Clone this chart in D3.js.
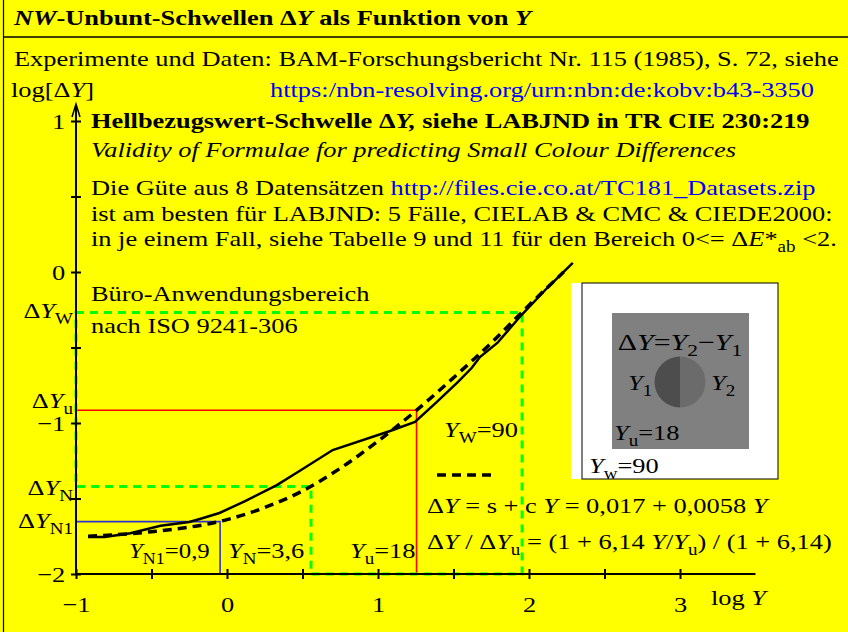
<!DOCTYPE html>
<html>
<head>
<meta charset="utf-8">
<script src="https://cdn.jsdelivr.net/npm/d3@7"></script>
<style>
body { margin: 0; background: #ffff00; }
svg { display: block; font-family: "Liberation Serif", "Times New Roman", serif; }
</style>
</head>
<body>
<script>
// tick values of the two log axes
var xTicks = [-1, 0, 1, 2, 3];
var xMinor = [-1, -0.5, 0, 0.5, 1, 1.5, 2, 2.5, 3];
var yTicks = [-2, -1, 0, 1];
var yMinor = [-2, -1.5, -1, -0.5, 0, 0.5, 1];

var solidLogY  = [-0.92, -0.81, -0.64, -0.44, -0.25, -0.18, -0.05, 0.12, 0.33, 0.48, 0.70, 1.08, 1.245, 1.39, 1.53, 1.62, 1.675, 1.79, 1.95, 2.12, 2.29];
var solidLogDY = [-1.755, -1.755, -1.73, -1.68, -1.656, -1.636, -1.596, -1.517, -1.411, -1.318, -1.179, -1.053, -0.993, -0.86, -0.728, -0.636, -0.563, -0.47, -0.285, -0.106, 0.06];

// fitted curve (dashed)
var dashLogY  = [-0.92, -0.5, 0, 0.25, 0.5, 0.75, 1.0, 1.25, 1.5, 1.75, 2.0, 2.23];
var dashLogDY = [-1.75, -1.72, -1.64, -1.56, -1.45, -1.30, -1.12, -0.92, -0.70, -0.47, -0.22, 0.0];

// reference points N1, N, u, W
var refNames = ["N1", "N", "u", "W"];
var refY     = [0.9, 3.6, 18, 90];
var refLogDY = [-1.653, -1.421, -0.916, -0.268];

var W = 848, H = 632;
var SX = 1.2; // glyphs in the picture are stretched horizontally
var svg = d3.select("body").append("svg").attr("width", W).attr("height", H);

svg.append("rect").attr("width", W).attr("height", H).attr("fill", "#ffff00");

var x = d3.scaleLinear().domain([-1, 3]).range([76, 680]);
var y = d3.scaleLinear().domain([-2, 1]).range([574, 121]);

// text with ~italic~ and _{sub} markup
function rich(g, px, py, str, size, opts) {
  opts = opts || {};
  var t = g.append("text").attr("transform", "translate(" + px + "," + py + ") scale(" + (opts.sx || SX) + ",1)")
    .attr("font-size", size).attr("text-anchor", opts.anchor || "start");
  if (opts.bold) t.attr("font-weight", "bold");
  if (opts.fill) t.attr("fill", opts.fill);
  if (opts.italic) t.attr("font-style", "italic");
  var parts = str.split(/(~[^~]+~|_\{[^}]+\})/);
  var shift = 0;
  parts.forEach(function(p) {
    if (p === "") return;
    var s = t.append("tspan");
    if (p[0] === "~") {
      s.text(p.slice(1, -1)).attr("font-style", "italic");
      if (shift) { s.attr("dy", -shift); shift = 0; }
    } else if (p[0] === "_") {
      s.text(p.slice(2, -1)).attr("font-size", size * 0.72).attr("dy", size * 0.25 - shift);
      shift = size * 0.25;
    } else {
      s.text(p);
      if (shift) { s.attr("dy", -shift); shift = 0; }
    }
  });
  return t;
}

// header
svg.append("line").attr("x1", 3.5).attr("x2", 3.5).attr("y1", 0).attr("y2", H)
  .attr("stroke", "#000").attr("stroke-width", 1.2);
svg.append("line").attr("x1", 3).attr("x2", W).attr("y1", 37).attr("y2", 37)
  .attr("stroke", "#000").attr("stroke-width", 1.5);
rich(svg, 14, 25, "~NW~-Unbunt-Schwellen Δ~Y~ als Funktion von ~Y~", 22, {bold: true});
rich(svg, 14, 66, "Experimente und Daten: BAM-Forschungsbericht Nr. 115 (1985), S. 72, siehe", 22);
rich(svg, 11, 97, "log[Δ~Y~]", 22);
rich(svg, 270, 97, "https:/nbn-resolving.org/urn:nbn:de:kobv:b43-3350", 22, {fill: "#0000ff"});

rich(svg, 91, 128, "Hellbezugswert-Schwelle Δ~Y,~ siehe LABJND in TR CIE 230:219", 22, {bold: true});
rich(svg, 91, 157, "Validity of Formulae for predicting Small Colour Differences", 22, {italic: true});
var t1 = rich(svg, 91, 195, "Die Güte aus 8 Datensätzen ", 22);
t1.append("tspan").attr("fill", "#0000ff").text("http://files.cie.co.at/TC181_Datasets.zip");
rich(svg, 91, 221, "ist am besten für LABJND: 5 Fälle, CIELAB & CMC & CIEDE2000:", 22);
rich(svg, 91, 246, "in je einem Fall, siehe Tabelle 9 und 11 für den Bereich 0<= Δ~E~*_{ab} <2.", 22);

rich(svg, 91, 301, "Büro-Anwendungsbereich", 22);
rich(svg, 91, 333, "nach ISO 9241-306", 22);

// reference lines
var px = refY.map(function(v) { return x(Math.log10(v)); });
var py = refLogDY.map(function(v) { return y(v); });
var x0 = x(-1), yb = y(-2);

svg.append("path")
  .attr("d", "M" + x0 + "," + py[0] + "H" + px[0] + "V" + yb)
  .attr("fill", "none").attr("stroke", "#3333cc").attr("stroke-width", 1.6);
svg.append("path")
  .attr("d", "M" + x0 + "," + py[2] + "H" + px[2] + "V" + yb)
  .attr("fill", "none").attr("stroke", "#ff0000").attr("stroke-width", 1.6);
svg.append("path")
  .attr("d", "M" + x0 + "," + py[3] + "H" + px[3] + "V" + yb + "H" + px[1] + "V" + py[1] + "H" + x0 + "Z")
  .attr("fill", "none").attr("stroke", "#00ff00").attr("stroke-width", 3)
  .attr("stroke-dasharray", "8,6");

// axes
var xa = svg.append("g").attr("transform", "translate(0," + yb + ")")
  .call(d3.axisBottom(x).tickValues(xMinor).tickSizeOuter(0)
    .tickFormat(function(d) { return xTicks.indexOf(d) >= 0 ? d3.format("d")(d) : ""; }));
xa.select(".domain").remove();
xa.selectAll(".tick line").attr("y1", -5).attr("y2", 5).attr("stroke-width", 2);
xa.selectAll(".tick text").attr("y", 38).attr("dy", 0).attr("font-size", 22)
  .attr("font-family", "Liberation Serif").attr("transform", "scale(" + SX + ",1)");
svg.append("line").attr("x1", x0).attr("x2", x(3.5)).attr("y1", yb).attr("y2", yb)
  .attr("stroke", "#000").attr("stroke-width", 2);

var ya = svg.append("g").attr("transform", "translate(" + x0 + ",0)")
  .call(d3.axisLeft(y).tickValues(yMinor).tickSizeOuter(0)
    .tickFormat(function(d) { return yTicks.indexOf(d) >= 0 ? d3.format("d")(d) : ""; }));
ya.select(".domain").remove();
ya.selectAll(".tick line").attr("x1", -5).attr("x2", 5).attr("stroke-width", 2);
ya.selectAll(".tick text").attr("x", -9).attr("dy", "0.32em").attr("font-size", 22)
  .attr("font-family", "Liberation Serif").attr("transform", "scale(" + SX + ",1)");
svg.append("line").attr("x1", x0).attr("x2", x0).attr("y1", yb).attr("y2", 106)
  .attr("stroke", "#000").attr("stroke-width", 2);
svg.append("path").attr("d", "M" + (x0 - 4) + ",117L" + x0 + ",104L" + (x0 + 4) + ",117")
  .attr("fill", "none").attr("stroke", "#000").attr("stroke-width", 1.5);

rich(svg, 711, 605, "log ~Y~", 22);

// curves
var line = d3.line().curve(d3.curveMonotoneX)
  .x(function(d) { return x(d[0]); }).y(function(d) { return y(d[1]); });
var solid = solidLogY.map(function(v, i) { return [v, solidLogDY[i]]; });
var dash = dashLogY.map(function(v, i) { return [v, dashLogDY[i]]; });

svg.append("path").attr("d", d3.line().x(function(d) { return x(d[0]); }).y(function(d) { return y(d[1]); })(solid))
  .attr("fill", "none").attr("stroke", "#000").attr("stroke-width", 2.5);
svg.append("path").attr("d", line(dash))
  .attr("fill", "none").attr("stroke", "#000").attr("stroke-width", 3.5)
  .attr("stroke-dasharray", "9,6");

// labels of the reference levels
rich(svg, 73, 318, "Δ~Y~_{W}", 22, {anchor: "end"});
rich(svg, 73, 408, "Δ~Y~_{u}", 22, {anchor: "end"});
rich(svg, 73, 495, "Δ~Y~_{N}", 22, {anchor: "end"});
rich(svg, 73, 528, "Δ~Y~_{N1}", 22, {anchor: "end"});

rich(svg, 129, 558, "~Y~_{N1}=0,9", 22, {sx: 1.13});
rich(svg, 228, 558, "~Y~_{N}=3,6", 22);
rich(svg, 350, 558, "~Y~_{u}=18", 22);
rich(svg, 444, 437, "~Y~_{W}=90", 22);

// inset
var ins = svg.append("g");
ins.append("rect").attr("x", 571).attr("y", 283).attr("width", 207).attr("height", 196).attr("fill", "#fff");
ins.append("rect").attr("x", 582).attr("y", 283).attr("width", 196).attr("height", 196)
  .attr("fill", "none").attr("stroke", "#000").attr("stroke-width", 1);
ins.append("rect").attr("x", 612).attr("y", 313).attr("width", 137).attr("height", 136).attr("fill", "#808080");
var arc = d3.arc().innerRadius(0).outerRadius(25.5);
ins.append("path").attr("transform", "translate(680,382)")
  .attr("d", arc({startAngle: Math.PI, endAngle: 2 * Math.PI})).attr("fill", "#4d4d4d");
ins.append("path").attr("transform", "translate(680,382)")
  .attr("d", arc({startAngle: 0, endAngle: Math.PI})).attr("fill", "#6b6b6b");
rich(ins, 680, 350, "Δ~Y~=~Y~_{2}−~Y~_{1}", 23, {anchor: "middle", sx: 1.3});
rich(ins, 628, 390, "~Y~_{1}", 22);
rich(ins, 711, 390, "~Y~_{2}", 22);
rich(ins, 614, 440, "~Y~_{u}=18", 22);
rich(ins, 589, 473, "~Y~_{w}=90", 22);

// legend and formulas
svg.append("line").attr("x1", 437).attr("x2", 492).attr("y1", 475).attr("y2", 475)
  .attr("stroke", "#000").attr("stroke-width", 3.5).attr("stroke-dasharray", "9,6");
rich(svg, 427, 513, "Δ~Y~ = s + c ~Y~ = 0,017 + 0,0058 ~Y~", 22);
rich(svg, 427, 549, "Δ~Y~ / Δ~Y~_{u} = (1 + 6,14 ~Y~/~Y~_{u}) / (1 + 6,14)", 22);
</script>
</body>
</html>
